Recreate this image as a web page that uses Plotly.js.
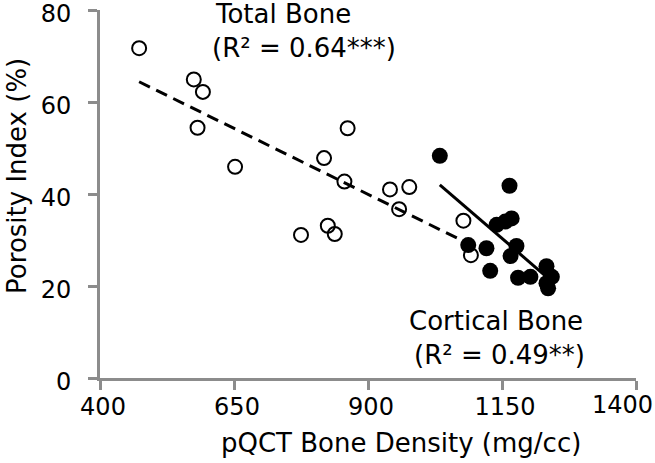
<!DOCTYPE html>
<html>
<head>
<meta charset="utf-8">
<script src="https://cdn.plot.ly/plotly-3.0.1.min.js"></script>
<style>html,body{margin:0;padding:0;background:#fff;}#chart{width:655px;height:463px;}</style>
</head>
<body>
<div id="chart"></div>
<script>
// Total bone (open circles)
const totalX = [473, 575, 592, 582, 652, 862, 818, 856, 941, 977, 958, 775, 825, 838, 1078, 1092];
const totalY = [71.7, 64.9, 62.2, 54.4, 45.9, 54.3, 47.8, 42.7, 41.0, 41.5, 36.7, 31.1, 33.1, 31.3, 34.2, 26.7];
// Cortical bone (filled circles)
const corticalX = [1034, 1164, 1087, 1121, 1128, 1140, 1156, 1168, 1177, 1166, 1180, 1203, 1233, 1243, 1233, 1236];
const corticalY = [48.3, 41.8, 28.9, 28.2, 23.3, 33.3, 34.0, 34.7, 28.7, 26.5, 21.8, 22.0, 24.3, 22.0, 20.6, 19.5];
// Regression line end points
const totalFitX = [473, 1077];
const totalFitY = [64.4, 29.8];
const corticalFitX = [1034, 1233];
const corticalFitY = [42.0, 22.0];
// Axis ticks
const xTicks = [400, 650, 900, 1150, 1400];
const xTickText = ["400", "650", "900", "1150", ""];
const xLastTick = "1400";
const yTicks = [0, 20, 40, 60, 80];
const yTickText = ["0", "20", "40", "60", "80"];
// Labels
const xTitle = "pQCT Bone Density (mg/cc)";
const yTitle = "Porosity Index (%)";
const totalLabel = ["Total Bone", "(R² = 0.64***)"];
const corticalLabel = ["Cortical Bone", "(R² = 0.49**)"];

const FONT = "DejaVu Sans, Arial, sans-serif";
const AXC = "#8c8c8c";

const traces = [
  {x: totalFitX, y: totalFitY, mode: "lines", type: "scatter",
   line: {color: "#000", width: 3, dash: "12px,7px"}, hoverinfo: "skip"},
  {x: corticalFitX, y: corticalFitY, mode: "lines", type: "scatter",
   line: {color: "#000", width: 3}, hoverinfo: "skip"},
  {x: totalX, y: totalY, mode: "markers", type: "scatter",
   marker: {symbol: "circle-open", size: 14, color: "#000", line: {width: 2, color: "#000"}}},
  {x: corticalX, y: corticalY, mode: "markers", type: "scatter",
   marker: {symbol: "circle", size: 16, color: "#000"}}
];

const axisCommon = {
  showline: true, linecolor: AXC, linewidth: 3,
  ticks: "outside", ticklen: 9, tickwidth: 3, tickcolor: AXC,
  showgrid: false, zeroline: false,
  tickfont: {family: FONT, size: 24, color: "#000"},
  ticklabeloverflow: "allow"
};

const tf = {family: FONT, size: 26, color: "#000"};
const tickf = {family: FONT, size: 24, color: "#000"};

const layout = {
  width: 655, height: 463,
  margin: {l: 100, r: 19, t: 10, b: 85},
  paper_bgcolor: "#fff", plot_bgcolor: "#fff",
  showlegend: false,
  font: {family: FONT, color: "#000"},
  xaxis: Object.assign({}, axisCommon, {
    range: [400, 1400], tickvals: xTicks, ticktext: xTickText,
    ticklabelstandoff: -4, ticklabelshift: 3
  }),
  yaxis: Object.assign({}, axisCommon, {
    range: [0, 80], tickvals: yTicks, ticktext: yTickText,
    ticklabelstandoff: 12, ticklabelshift: 4
  }),
  annotations: [
    {text: xLastTick, x: 1400, xshift: -14, y: 0, yshift: -27, xref: "x", yref: "y",
     xanchor: "center", yanchor: "middle", showarrow: false, font: tickf},
    {text: xTitle, x: 0.5616, y: -0.1766, xref: "paper", yref: "paper", xanchor: "center", yanchor: "middle",
     showarrow: false, font: tf, borderpad: 0},
    {text: yTitle, x: -0.155, y: 0.549, xref: "paper", yref: "paper", xanchor: "center", yanchor: "middle",
     textangle: -90, showarrow: false, font: tf, borderpad: 0},
    {text: totalLabel[0], x: 611, y: 79.2, xref: "x", yref: "y", xanchor: "left", yanchor: "middle",
     showarrow: false, font: tf},
    {text: totalLabel[1], x: 605, y: 71.8, xref: "x", yref: "y", xanchor: "left", yanchor: "middle",
     showarrow: false, font: tf},
    {text: corticalLabel[0], x: 973, y: 12.4, xref: "x", yref: "y", xanchor: "left", yanchor: "middle",
     showarrow: false, font: tf},
    {text: corticalLabel[1], x: 982, y: 5.0, xref: "x", yref: "y", xanchor: "left", yanchor: "middle",
     showarrow: false, font: tf}
  ]
};

Plotly.newPlot("chart", traces, layout, {displayModeBar: false, staticPlot: true});
</script>
</body>
</html>
